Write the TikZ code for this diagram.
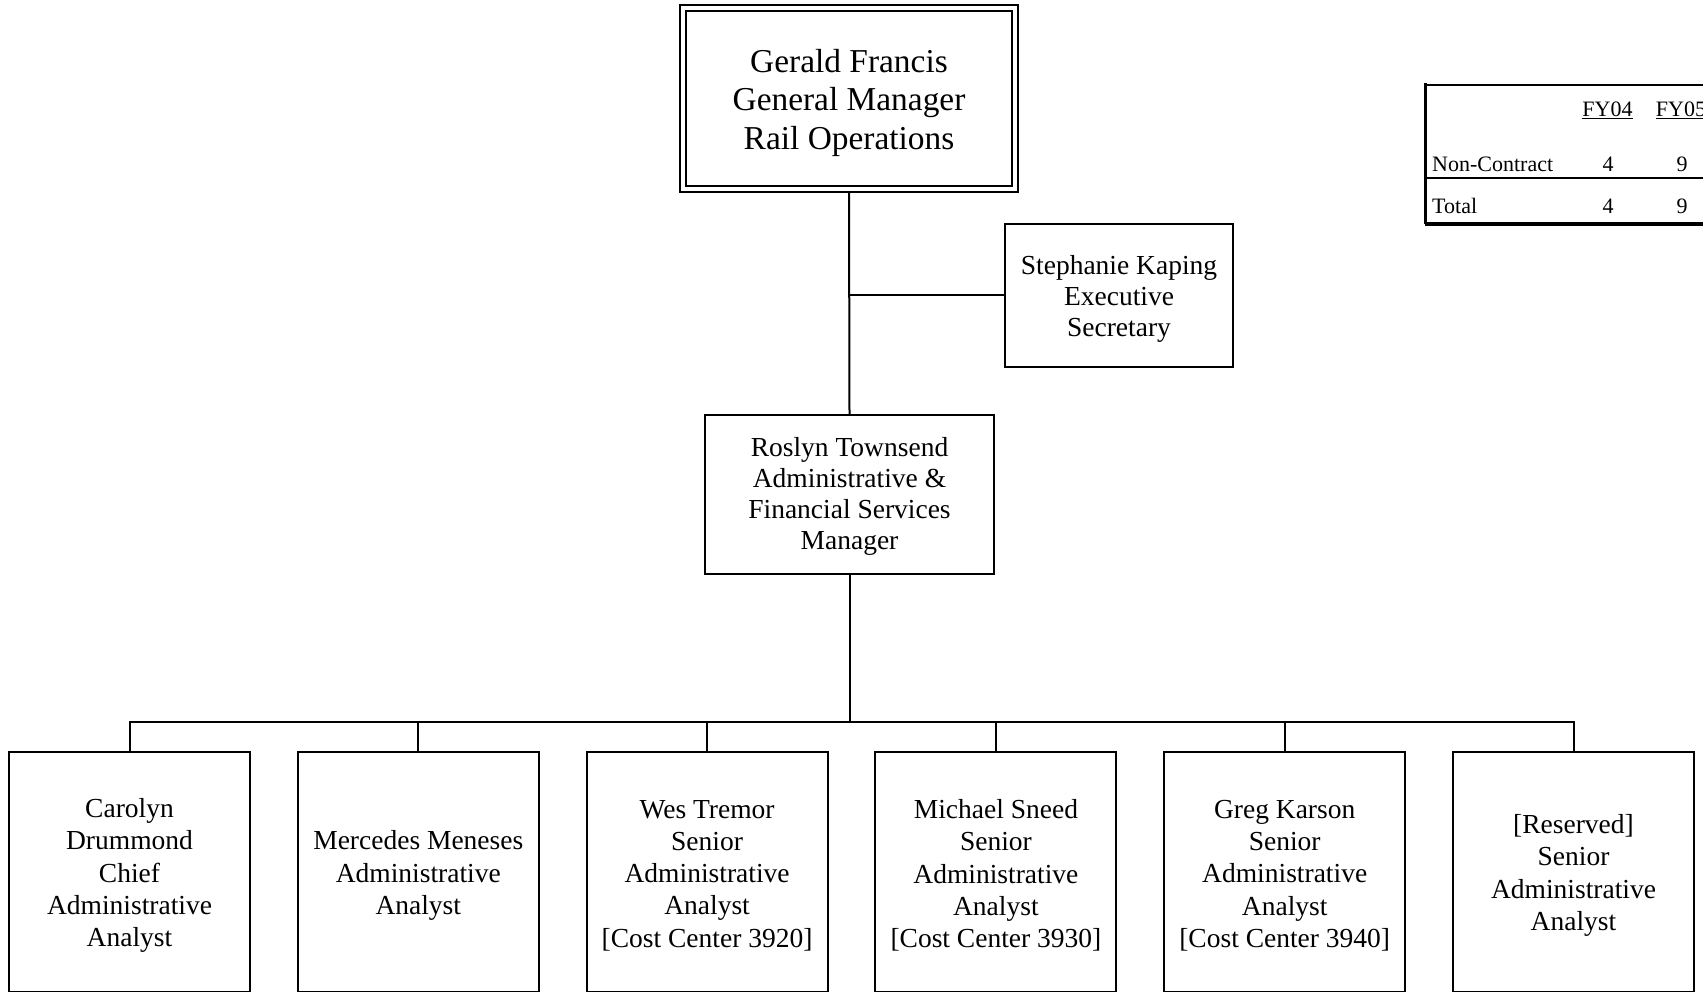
\documentclass[tikz,border=0pt]{standalone}
\usepackage{fontspec}
\setmainfont{Liberation Serif}
\usetikzlibrary{backgrounds}
\begin{document}
\begin{tikzpicture}[x=1pt,y=-1pt,
  box/.style={draw, line width=2pt, inner sep=0pt},
  lbl/.style={align=center, inner sep=0pt},
  midtext/.style={lbl, font=\fontsize{27.5}{31.2}\selectfont},
  lowtext/.style={lbl, font=\fontsize{27.5}{32.3}\selectfont},
  lowbox/.style={box, minimum width=241pt, minimum height=240pt},
  topbox/.style={draw, line width=2.2pt, double, double distance=3.6pt, inner sep=0pt,
    minimum width=332pt, minimum height=181pt},
  toptext/.style={lbl, font=\fontsize{33.4}{38.5}\selectfont},
  conn/.style={line width=2pt},
  tab/.style={font=\fontsize{22}{26}\selectfont, inner sep=0pt},
]
\useasboundingbox (0,0) rectangle (1703,992);

% boxes
\node[topbox] (gm) at (849,98.5) {};
\node[box, minimum width=228pt, minimum height=143pt] (sec) at (1119,295.5) {};
\node[box, minimum width=289pt, minimum height=159pt] (afs) at (849.5,494.5) {};
\node[lowbox] (b1) at (129.5,872) {};
\node[lowbox] (b2) at (418.3,872) {};
\node[lowbox] (b3) at (707.1,872) {};
\node[lowbox] (b4) at (995.9,872) {};
\node[lowbox] (b5) at (1284.7,872) {};
\node[lowbox] (b6) at (1573.5,872) {};

% texts
\node[toptext] (gmt) at ([yshift=-4pt]gm.center) {Gerald Francis\\General Manager\\Rail Operations};
\node[midtext] (sect) at ([yshift=-3.5pt]sec.center) {Stephanie Kaping\\Executive\\Secretary};
\node[midtext] (afst) at ([yshift=-2pt]afs.center) {Roslyn Townsend\\Administrative \&\\Financial Services\\Manager};
\node[lowtext] (t1) at ([yshift=-3.5pt]b1.center) {Carolyn\\Drummond\\Chief\\Administrative\\Analyst};
\node[lowtext] (t2) at ([yshift=-3.5pt]b2.center) {Mercedes Meneses\\Administrative\\Analyst};
\node[lowtext] (t3) at ([yshift=-3.5pt]b3.center) {Wes Tremor\\Senior\\Administrative\\Analyst\\{[Cost Center 3920]}};
\node[lowtext] (t4) at ([yshift=-3.5pt]b4.center) {Michael Sneed\\Senior\\Administrative\\Analyst\\{[Cost Center 3930]}};
\node[lowtext] (t5) at ([yshift=-3.5pt]b5.center) {Greg Karson\\Senior\\Administrative\\Analyst\\{[Cost Center 3940]}};
\node[lowtext] (t6) at ([yshift=-3.5pt]b6.center) {{[Reserved]}\\Senior\\Administrative\\Analyst};

\coordinate (busM) at (849.5,722);
\begin{scope}[on background layer]
  \fill[white] (0,0) rectangle (1703,992);
  \draw[conn] (gm.south) -- (afs.north);
  \draw[conn] (gm.south |- sec.west) -- (sec.west);
  \draw[conn] (afs.south) -- (busM);
  \draw[conn] (b1.north) -- (b1.north |- busM) -- (b6.north |- busM) -- (b6.north);
  \foreach \i in {2,3,4,5} {
    \draw[conn] (b\i.north) -- (b\i.north |- busM);
  }
\end{scope}

% staffing table
\coordinate (tTL) at (1425,85);
\coordinate (tBL) at (1425,224);
\draw[line width=3pt] (1425,83.5) -- (tBL);
\draw[line width=2.5pt] (tTL) -- (1710,85);
\draw[line width=2.5pt] (1425,178) -- (1710,178);
\draw[line width=3.5pt] (tBL) -- (1710,224);
\node[tab, anchor=base] (fy4) at (1607.5,117) {\underline{FY04}};
\node[tab, anchor=base] (fy5) at (1681,117) {\underline{FY05}};
\node[tab, anchor=base west] (nc) at (1432,172) {Non-Contract};
\node[tab, anchor=base] (nc4) at (1608,172) {4};
\node[tab, anchor=base] (nc9) at (1682,172) {9};
\node[tab, anchor=base west] (tot) at (1432,214) {Total};
\node[tab, anchor=base] (tot4) at (1608,214) {4};
\node[tab, anchor=base] (tot9) at (1682,214) {9};
\end{tikzpicture}
\end{document}
